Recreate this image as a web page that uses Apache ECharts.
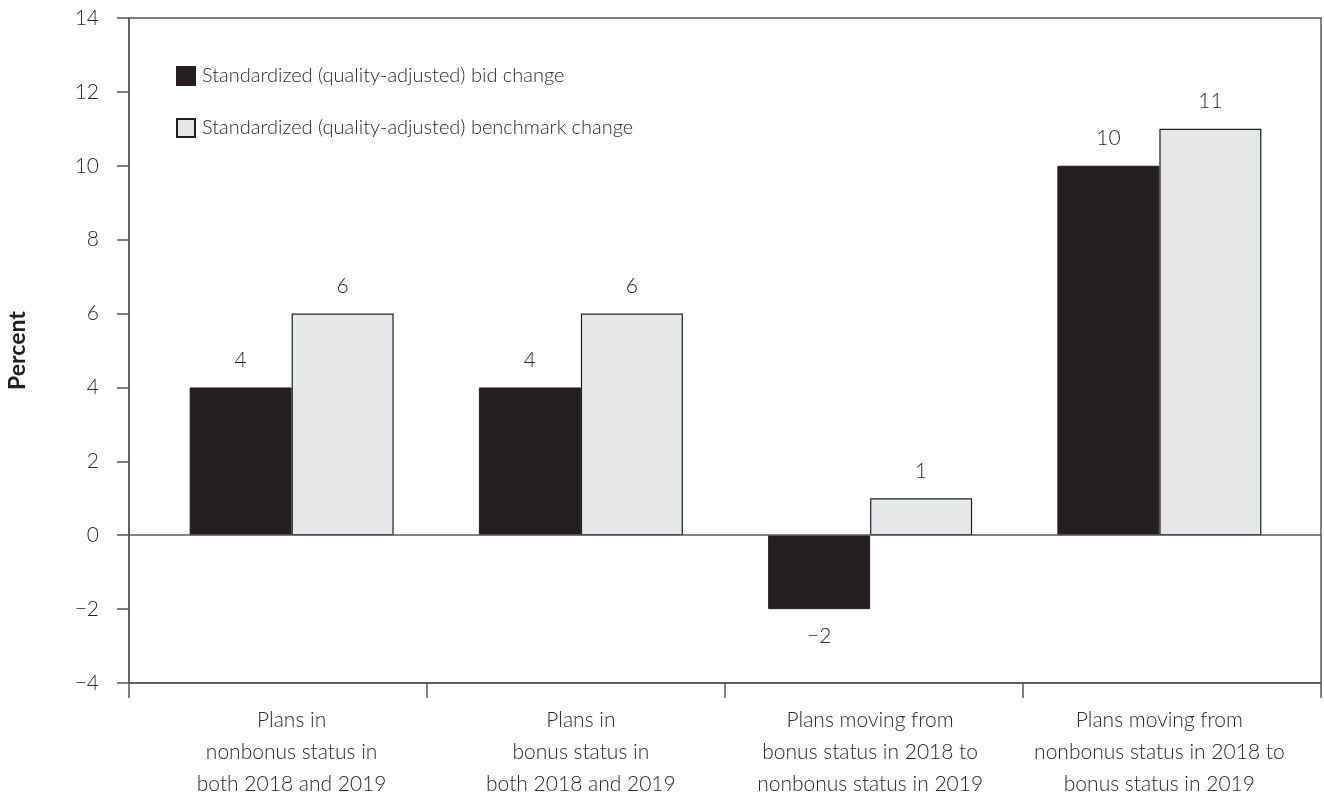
<!DOCTYPE html>
<html>
<head>
<meta charset="utf-8">
<script src="https://cdn.jsdelivr.net/npm/echarts@6/dist/echarts.min.js"></script>
<style>
  html, body { margin: 0; padding: 0; background: #fff; }
  #chart { width: 1324px; height: 794px; }
</style>
</head>
<body>
<div id="chart"></div>
<script>
let categories = [
  'Plans in\nnonbonus status in\nboth 2018 and 2019',
  'Plans in\nbonus status in\nboth 2018 and 2019',
  'Plans moving from\nbonus status in 2018 to\nnonbonus status in 2019',
  'Plans moving from\nnonbonus status in 2018 to\nbonus status in 2019'
]
let seriesNames = [
  'Standardized (quality-adjusted) bid change',
  'Standardized (quality-adjusted) benchmark change'
]
let bidChange = [4, 4, -2, 10]
let benchmarkChange = [6, 6, 1, 11]
let yTicks = { min: -4, max: 14, interval: 2 }

let font = 'Lato, "DejaVu Sans", sans-serif'
let ink = '#231f20'
let frame = '#5a5a5c'
let textColor = '#2a2a2a'

// minus sign instead of hyphen
function minus(v) {
  return String(v).replace('-', '\u2212')
}

// negative bars get their label underneath
function withLabels(values) {
  return values.map(v => (v < 0 ? { value: v, label: { position: 'bottom' } } : v))
}

let chart = echarts.init(document.getElementById('chart'))

let valueLabel = {
  show: true,
  position: 'top',
  distance: 17,
  fontSize: 21,
  color: textColor,
  fontFamily: font,
  fontWeight: 300,
  formatter: p => minus(p.value)
}

let option = {
  animation: false,
  textStyle: { fontFamily: font, fontWeight: 300 },
  legend: {
    orient: 'vertical',
    left: 171,
    top: 61,
    itemWidth: 18,
    itemHeight: 18,
    itemGap: 32,
    icon: 'rect',
    data: seriesNames,
    textStyle: { fontSize: 20, color: textColor, fontFamily: font, fontWeight: 300, padding: [0, 0, 0, 2] }
  },
  grid: [
    // frame + axes
    { left: 129, right: 3, top: 18, bottom: 111, outerBoundsMode: 'none', show: true, borderColor: frame, borderWidth: 1.5 },
    // bars, centred like the original
    { left: 147, right: 20, top: 18, bottom: 111, outerBoundsMode: 'none' }
  ],
  xAxis: [
    {
      gridIndex: 0,
      type: 'category',
      data: categories,
      boundaryGap: true,
      axisLine: { onZero: false, lineStyle: { color: frame, width: 1.5 } },
      axisTick: { show: true, length: 15, interval: 0, lineStyle: { color: frame, width: 1.5 } },
      axisLabel: { show: false }
    },
    {
      gridIndex: 1,
      type: 'category',
      data: categories,
      axisLine: { show: false, onZero: false },
      axisTick: { show: false },
      axisLabel: {
        interval: 0,
        margin: 21,
        fontSize: 21,
        lineHeight: 32,
        color: textColor,
        fontFamily: font,
        fontWeight: 300,
        align: 'center'
      }
    }
  ],
  yAxis: [
    {
      gridIndex: 0,
      type: 'value',
      min: yTicks.min,
      max: yTicks.max,
      interval: yTicks.interval,
      name: 'Percent',
      nameLocation: 'middle',
      nameGap: 100,
      nameRotate: 90,
      nameTextStyle: { fontSize: 23, fontWeight: 'bold', color: ink, fontFamily: font },
      axisLine: { show: true, lineStyle: { color: frame, width: 1.5 } },
      axisTick: { show: true, length: 12, lineStyle: { color: frame, width: 1.5 } },
      axisLabel: { margin: 30, fontSize: 21, color: textColor, formatter: minus },
      splitLine: { show: false }
    },
    {
      gridIndex: 1,
      type: 'value',
      min: yTicks.min,
      max: yTicks.max,
      interval: yTicks.interval,
      show: false,
      splitLine: { show: false }
    }
  ],
  series: [
    {
      // zero line across the full frame
      type: 'bar',
      xAxisIndex: 0,
      yAxisIndex: 0,
      data: [],
      silent: true,
      markLine: {
        symbol: 'none',
        silent: true,
        label: { show: false },
        lineStyle: { color: frame, width: 1.5, type: 'solid' },
        data: [{ yAxis: 0 }]
      }
    },
    {
      name: seriesNames[0],
      type: 'bar',
      xAxisIndex: 1,
      yAxisIndex: 1,
      data: withLabels(bidChange),
      barWidth: 102,
      barGap: '0%',
      itemStyle: { color: ink, borderColor: ink, borderWidth: 1 },
      label: valueLabel
    },
    {
      name: seriesNames[1],
      type: 'bar',
      xAxisIndex: 1,
      yAxisIndex: 1,
      data: withLabels(benchmarkChange),
      barWidth: 102,
      barGap: '0%',
      itemStyle: { color: '#e6e7e8', borderColor: ink, borderWidth: 1.2 },
      label: valueLabel
    }
  ]
}

chart.setOption(option)

window.addEventListener('resize', function () {
  chart.resize()
})
</script>
</body>
</html>
